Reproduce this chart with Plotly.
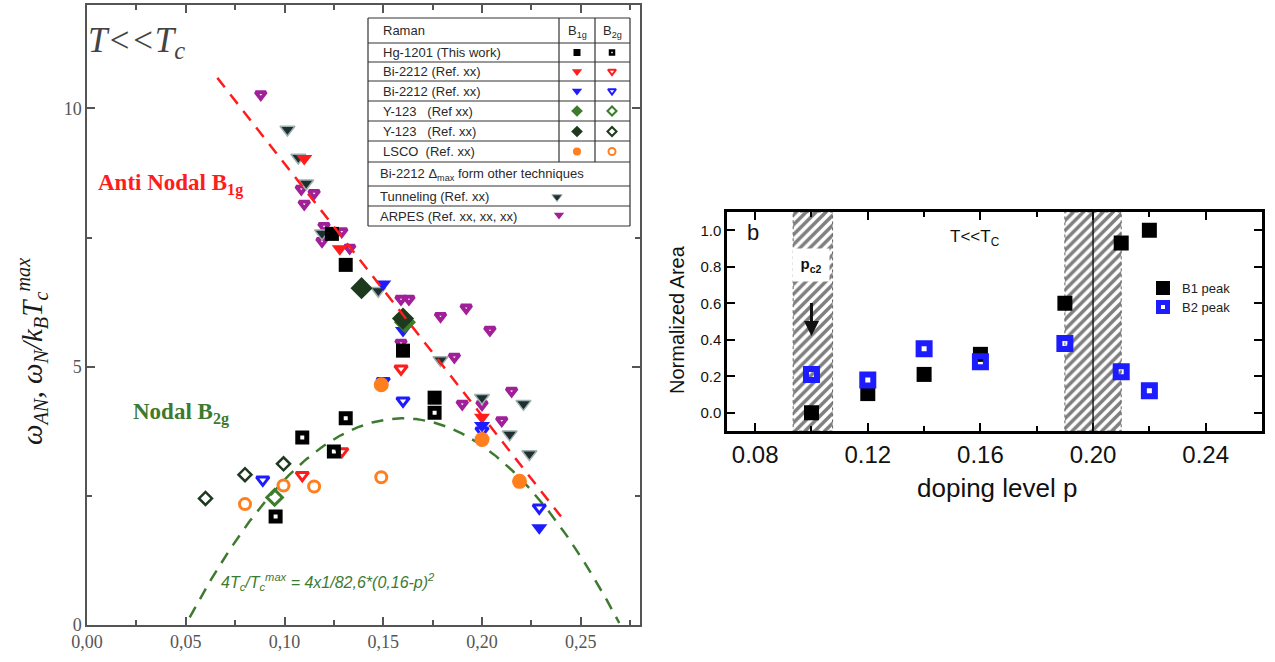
import numpy as np
import plotly.graph_objects as go

W, H = 1275, 662

# ---------------- Left panel data (doping p, energy / kB Tc^max) ----------------
hg_b1g_p = [0.124, 0.131, 0.160, 0.176]
hg_b1g_w = [7.57, 6.97, 5.31, 4.40]
hg_b2g_p = [0.0955, 0.109, 0.125, 0.131, 0.176]
hg_b2g_w = [2.10, 3.63, 3.36, 4.00, 4.11]

bi_red_b1g_p = [0.110, 0.128, 0.200]
bi_red_b1g_w = [9.03, 7.28, 4.02]
bi_red_b2g_p = [0.109, 0.129, 0.159]
bi_red_b2g_w = [2.90, 3.36, 4.96]

bi_blue_b1g_p = [0.150, 0.160, 0.200, 0.229]
bi_blue_b1g_w = [6.60, 5.70, 3.86, 1.88]
bi_blue_b2g_p = [0.089, 0.150, 0.160, 0.200, 0.229]
bi_blue_b2g_w = [2.81, 4.72, 4.34, 3.76, 2.27]

y_green_b1g_p = [0.161]
y_green_b1g_w = [5.86]
y_green_b2g_p = [0.095]
y_green_b2g_w = [2.47]

y_dark_b1g_p = [0.139, 0.160]
y_dark_b1g_w = [6.52, 5.93]
y_dark_b2g_p = [0.060, 0.080, 0.0995]
y_dark_b2g_w = [2.45, 2.91, 3.12]

lsco_b1g_p = [0.149, 0.200, 0.219]
lsco_b1g_w = [4.65, 3.59, 2.78]
lsco_b2g_p = [0.080, 0.0995, 0.115, 0.149]
lsco_b2g_w = [2.34, 2.70, 2.68, 2.86]

tunneling_p = [0.1015, 0.107, 0.111, 0.119, 0.1475, 0.179, 0.200, 0.214, 0.221, 0.224]
tunneling_w = [9.59, 9.05, 8.55, 7.58, 6.47, 5.13, 4.40, 3.69, 4.28, 3.31]

arpes_p = [0.088, 0.1085, 0.115, 0.110, 0.120, 0.119, 0.129, 0.133, 0.159, 0.163,
           0.159, 0.179, 0.192, 0.204, 0.186, 0.190, 0.200, 0.215, 0.210]
arpes_w = [10.27, 8.44, 8.36, 8.15, 7.72, 7.43, 7.62, 7.30, 6.31, 6.31,
           5.46, 5.98, 6.14, 5.71, 5.19, 4.28, 4.27, 4.53, 3.96]

# fit curves
an_fit_intercept, an_fit_slope = 13.81, -48.8       # anti-nodal linear guide
an_fit_range = [0.066, 0.240]
nodal_amp, nodal_coef, nodal_popt = 4.0, 82.6, 0.16  # 4Tc/Tcmax = 4(1-82.6(0.16-p)^2)
nodal_range = [0.052, 0.2695]

left_x_ticks = [0.0, 0.05, 0.10, 0.15, 0.20, 0.25]
left_x_labels = ["0,00", "0,05", "0,10", "0,15", "0,20", "0,25"]
left_x_minor = [0.025, 0.075, 0.125, 0.175, 0.225, 0.275]
left_y_ticks = [0, 5, 10]

# ---------------- Right panel data ----------------
p_levels = [0.10, 0.12, 0.14, 0.16, 0.19, 0.21, 0.22]
b1_area = [0.00, 0.105, 0.21, 0.32, 0.60, 0.93, 1.00]
b2_area = [0.21, 0.18, 0.35, 0.28, 0.38, 0.225, 0.12]
pc2_band = [0.0935, 0.1075]
cross_band = [0.19, 0.21]
cross_line = 0.20

# ---------------- colours ----------------
RED = "#ff1c1c"
BLUE = "#1c1cff"
GREEN = "#3c7d2c"
DKGREEN = "#1e3a1e"
ORANGE = "#ff7f1e"
MAGENTA = "#a1209a"
TUN = "#1f2f2f"
LINEGREEN = "#3d7a30"

SERIF = "Liberation Serif"
SANS = "Liberation Sans"

fig = go.Figure()

LX = dict(xaxis="x", yaxis="y")
RX = dict(xaxis="x2", yaxis="y2")
PX = dict(xaxis="x3", yaxis="y3")


def sc(x, y, symbol, size, color, lw=0, lc=None, axes=LX):
    m = dict(symbol=symbol, size=size, color=color,
             line=dict(width=lw, color=lc if lc else color))
    fig.add_trace(go.Scatter(x=x, y=y, mode="markers", marker=m,
                             showlegend=False, hoverinfo="skip", **axes))


# nodal dashed curve (below markers)
pn = np.linspace(nodal_range[0], nodal_range[1], 200)
wn = nodal_amp * (1 - nodal_coef * (nodal_popt - pn) ** 2)
fig.add_trace(go.Scatter(x=pn, y=wn, mode="lines",
                         line=dict(color=LINEGREEN, width=2.5, dash="12px,9px"),
                         showlegend=False, hoverinfo="skip", **LX))

# markers
sc(arpes_p, arpes_w, "triangle-down-open", 9, MAGENTA, lw=3.8)
sc(tunneling_p, tunneling_w, "triangle-down", 13, TUN, lw=1.5, lc="#9fb0b0")
sc(bi_red_b1g_p, bi_red_b1g_w, "triangle-down", 14, RED)
sc(bi_red_b2g_p, bi_red_b2g_w, "triangle-down-open", 11, RED, lw=3)
sc(bi_blue_b1g_p, bi_blue_b1g_w, "triangle-down", 14, BLUE)
sc(bi_blue_b2g_p, bi_blue_b2g_w, "triangle-down-open", 11, BLUE, lw=3)
sc(y_green_b1g_p, y_green_b1g_w, "diamond", 17, GREEN)
sc(y_green_b2g_p, y_green_b2g_w, "diamond-open", 12, GREEN, lw=3)
sc(y_dark_b1g_p, y_dark_b1g_w, "diamond", 17, DKGREEN)
sc(y_dark_b2g_p, y_dark_b2g_w, "diamond-open", 10, DKGREEN, lw=2.5)
sc(lsco_b1g_p, lsco_b1g_w, "circle", 15, ORANGE)
sc(lsco_b2g_p, lsco_b2g_w, "circle-open", 11, ORANGE, lw=3)
sc(hg_b2g_p, hg_b2g_w, "square-open", 9, "black", lw=5)
sc(hg_b1g_p, hg_b1g_w, "square", 14, "black")

# anti-nodal dashed line (above markers)
pa = np.linspace(an_fit_range[0], an_fit_range[1], 50)
wa = an_fit_intercept + an_fit_slope * pa
fig.add_trace(go.Scatter(x=pa, y=wa, mode="lines",
                         line=dict(color=RED, width=2.5, dash="12px,9px"),
                         showlegend=False, hoverinfo="skip", **LX))

# ---------------- right panel ----------------
for band in (pc2_band, cross_band):
    fig.add_trace(go.Scatter(
        x=[band[0], band[1], band[1], band[0], band[0]],
        y=[-0.1, -0.1, 1.1, 1.1, -0.1],
        mode="lines", fill="toself",
        fillcolor="white",
        fillpattern=dict(shape="/", fgcolor="#000", bgcolor="white", size=7, solidity=0.5),
        line=dict(color="#666", width=1, dash="dot"),
        showlegend=False, hoverinfo="skip", **RX))

sc(p_levels, b1_area, "square", 15, "black", axes=RX)
sc(p_levels, b2_area, "square-open", 11, BLUE, lw=6, axes=RX)

# ---------------- legend table markers (pixel overlay) ----------------
tab_b1_x, tab_b2_x = 577, 612
tab_rows_y = [52.5, 71.5, 91, 111, 131.5, 151.5]
sc([tab_b1_x], [tab_rows_y[0]], "square", 7, "black", axes=PX)
sc([tab_b2_x], [tab_rows_y[0]], "square-open", 4, "black", lw=2.5, axes=PX)
sc([tab_b1_x], [tab_rows_y[1]], "triangle-down", 9, RED, axes=PX)
sc([tab_b2_x], [tab_rows_y[1]], "triangle-down-open", 7, RED, lw=2, axes=PX)
sc([tab_b1_x], [tab_rows_y[2]], "triangle-down", 9, BLUE, axes=PX)
sc([tab_b2_x], [tab_rows_y[2]], "triangle-down-open", 7, BLUE, lw=2, axes=PX)
sc([tab_b1_x], [tab_rows_y[3]], "diamond", 9, GREEN, axes=PX)
sc([tab_b2_x], [tab_rows_y[3]], "diamond-open", 7, GREEN, lw=2, axes=PX)
sc([tab_b1_x], [tab_rows_y[4]], "diamond", 9, DKGREEN, axes=PX)
sc([tab_b2_x], [tab_rows_y[4]], "diamond-open", 7, DKGREEN, lw=2, axes=PX)
sc([tab_b1_x], [tab_rows_y[5]], "circle", 8, ORANGE, axes=PX)
sc([tab_b2_x], [tab_rows_y[5]], "circle-open", 7, ORANGE, lw=2, axes=PX)
sc([557], [197], "triangle-down", 9, TUN, lw=1, lc="#9fb0b0", axes=PX)
sc([559], [215], "triangle-down", 9, MAGENTA, axes=PX)

# right legend markers
sc([1163], [288], "square", 14, "black", axes=PX)
sc([1163], [307], "square-open", 9, BLUE, lw=5, axes=PX)

# ---------------- shapes ----------------
shapes = []


def pline(x0, y0, x1, y1, color="#333", width=1.2):
    shapes.append(dict(type="line", xref="x3", yref="y3", x0=x0, y0=y0, x1=x1, y1=y1,
                       line=dict(color=color, width=width), layer="above"))


# legend table grid
TL, TR = 368, 630
C1, C2 = 559, 595
rows = [18, 43, 62, 81, 101, 121, 141, 162, 186, 206, 226]
for yy in rows:
    pline(TL, yy, TR, yy)
pline(TL, rows[0], TL, rows[-1])
pline(TR, rows[0], TR, rows[-1])
pline(C1, rows[0], C1, rows[7])
pline(C2, rows[0], C2, rows[7])

# crossover middle line on right panel
shapes.append(dict(type="line", xref="x2", yref="y2 domain", x0=cross_line, x1=cross_line,
                   y0=0, y1=1, line=dict(color="#111", width=1.4), layer="above"))

# ---------------- annotations ----------------
anns = []


def ann(x, y, text, size, color="#222", family=SANS, xanchor="left", angle=0, yanchor="middle", **kw):
    anns.append(dict(x=x, y=y, xref="x3", yref="y3", text=text, showarrow=False,
                     xanchor=xanchor, yanchor=yanchor, textangle=angle,
                     font=dict(size=size, color=color, family=family), **kw))


TF = 13
TC = "#2a2a2a"
ann(381, 30, "Raman", TF, TC)
ann(577, 31, "B<sub>1g</sub>", TF, TC, xanchor="center")
ann(612, 31, "B<sub>2g</sub>", TF, TC, xanchor="center")
labels = ["Hg-1201 (This work)", "Bi-2212 (Ref. xx)", "Bi-2212 (Ref. xx)",
          "Y-123&nbsp;&nbsp;&nbsp;(Ref xx)", "Y-123&nbsp;&nbsp;&nbsp;(Ref. xx)", "LSCO&nbsp;&nbsp;(Ref. xx)"]
for lab, yy in zip(labels, tab_rows_y):
    ann(381, yy, lab, TF, TC)
ann(378, 174, "Bi-2212 Δ<sub>max</sub> form other techniques", TF, TC)
ann(378, 196, "Tunneling (Ref. xx)", TF, TC)
ann(378, 216, "ARPES (Ref. xx, xx, xx)", TF, TC)

# left panel texts
ann(86, 42, "<i>T&lt;&lt;T<sub>c</sub></i>", 35, "#444", SERIF)
ann(96, 184, "<b>Anti Nodal B<sub>1g</sub></b>", 23, RED, SERIF)
ann(131, 413, "<b>Nodal B<sub>2g</sub></b>", 23, LINEGREEN, SERIF)
ann(219, 582, "<i>4T<sub>c</sub>/T<sub>c</sub><sup>max</sup> = 4x1/82,6*(0,16-p)<sup>2</sup></i>",
    16, LINEGREEN, SANS)
ann(32, 352, "<i>ω<sub>AN</sub>, ω<sub>N</sub>/k<sub>B</sub>T<sub>c</sub><sup>max</sup></i>",
    29, "#1a1a1a", SERIF, xanchor="center", angle=-90)

# right panel texts
ann(745, 232, "b", 22, "#111")
ann(975, 238, "T&lt;&lt;T<sub>C</sub>", 17, "#111", xanchor="center")
ann(1180, 288, "B1 peak", 13, "#222")
ann(1180, 307, "B2 peak", 13, "#222")
ann(677, 320, "Normalized Area", 20, "#111", xanchor="center", angle=-90)
ann(997, 488, "doping level p", 26, "#111", xanchor="center")

# pc2 label box and arrow (right panel, data coordinates)
anns.append(dict(x=0.1, y=0.81, xref="x2", yref="y2", text="<b>p<sub>c2</sub></b>",
                 showarrow=False, bgcolor="white", font=dict(size=15, color="#111", family=SANS),
                 width=34, height=30))
anns.append(dict(x=0.1, y=0.42, xref="x2", yref="y2", ax=0.1, ay=0.61, axref="x2", ayref="y2",
                 text="", showarrow=True, arrowhead=2, arrowsize=1, arrowwidth=3,
                 arrowcolor="#111"))

# ---------------- layout ----------------
left_axis_common = dict(showgrid=False, zeroline=False, showline=True, linecolor="#555",
                        linewidth=1.5, ticks="inside", tickcolor="#555", tickwidth=1.5,
                        mirror="ticks", automargin=False,
                        tickfont=dict(family=SERIF, size=18, color="#555"))
right_axis_common = dict(showgrid=False, zeroline=False, showline=True, linecolor="black",
                         linewidth=2.5, ticks="inside", tickcolor="black", tickwidth=2,
                         mirror="ticks", automargin=False)

fig.update_layout(
    width=W, height=H, margin=dict(l=0, r=0, t=0, b=0, autoexpand=False),
    paper_bgcolor="white", plot_bgcolor="rgba(0,0,0,0)",
    showlegend=False,
    xaxis=dict(domain=[87 / W, 640 / W], range=[0, 0.28], anchor="y",
               tickvals=left_x_ticks, ticktext=left_x_labels, ticklen=8,
               minor=dict(tickvals=left_x_minor, ticklen=5, ticks="inside", tickcolor="#555"),
               **left_axis_common),
    yaxis=dict(domain=[1 - 625 / H, 1 - 5 / H], range=[0, 12], anchor="x",
               tickvals=left_y_ticks, ticklen=8,
               minor=dict(dtick=2.5, tick0=0, ticklen=5, ticks="inside", tickcolor="#555"),
               **left_axis_common),
    xaxis2=dict(domain=[727 / W, 1262 / W], range=[0.07, 0.26], anchor="y2",
                tick0=0.08, dtick=0.04, tickformat=".2f", ticklen=8,
                minor=dict(dtick=0.02, tick0=0.08, ticklen=5, ticks="inside", tickcolor="black"),
                tickfont=dict(family=SANS, size=24, color="#111"),
                **right_axis_common),
    yaxis2=dict(domain=[1 - 431 / H, 1 - 212 / H], range=[-0.1, 1.1], anchor="x2",
                tick0=0, dtick=0.2, tickformat=".1f", ticklen=8,
                tickfont=dict(family=SANS, size=15, color="#111"),
                **right_axis_common),
    xaxis3=dict(domain=[0, 1], range=[0, W], visible=False, anchor="y3", fixedrange=True,
                automargin=False),
    yaxis3=dict(domain=[0, 1], range=[H, 0], visible=False, anchor="x3", fixedrange=True,
                automargin=False),
    shapes=shapes,
    annotations=anns,
)

fig.write_html("out.html")
